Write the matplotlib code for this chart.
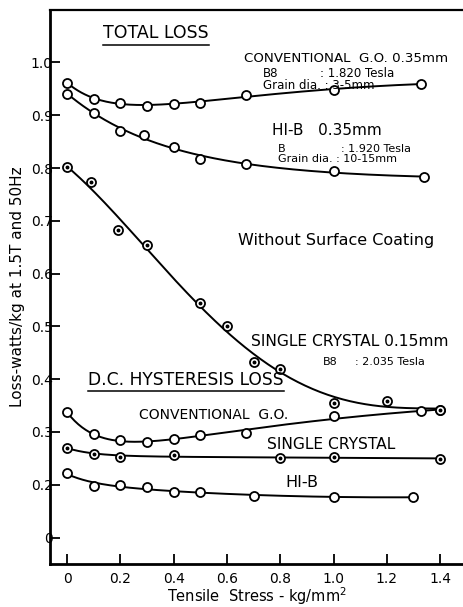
import numpy as np
import matplotlib
matplotlib.use("Agg")
import matplotlib.pyplot as plt
from matplotlib.lines import Line2D

# tensile stress (kg/mm^2) and loss (W/kg) readings
conv_total_x = [0.0, 0.1, 0.2, 0.3, 0.4, 0.5, 0.67, 1.0, 1.33]
conv_total_y = [0.962, 0.931, 0.924, 0.918, 0.922, 0.924, 0.939, 0.947, 0.960]

hib_total_x = [0.0, 0.1, 0.2, 0.29, 0.4, 0.5, 0.67, 1.0, 1.34]
hib_total_y = [0.941, 0.905, 0.870, 0.863, 0.840, 0.818, 0.807, 0.794, 0.783]

sc_total_x = [0.0, 0.09, 0.19, 0.30, 0.5, 0.6, 0.7, 0.8, 1.0, 1.2, 1.4]
sc_total_y = [0.802, 0.774, 0.683, 0.655, 0.544, 0.500, 0.433, 0.419, 0.355, 0.359, 0.341]

conv_dc_x = [0.0, 0.1, 0.2, 0.3, 0.4, 0.5, 0.67, 1.0, 1.33, 1.4]
conv_dc_y = [0.337, 0.296, 0.284, 0.281, 0.287, 0.294, 0.298, 0.330, 0.340, 0.341]

sc_dc_x = [0.0, 0.1, 0.2, 0.4, 0.8, 1.0, 1.4]
sc_dc_y = [0.270, 0.259, 0.252, 0.257, 0.251, 0.252, 0.249]

hib_dc_x = [0.0, 0.1, 0.2, 0.3, 0.4, 0.5, 0.7, 1.0, 1.3]
hib_dc_y = [0.222, 0.198, 0.199, 0.195, 0.187, 0.186, 0.179, 0.176, 0.177]

x_ticks = [0.0, 0.2, 0.4, 0.6, 0.8, 1.0, 1.2, 1.4]
x_labels = ["0", "0.2", "0.4", "0.6", "0.8", "1.0", "1.2", "1.4"]
# broken scale: the lowest tick stands for zero
y_ticks = [0.1, 0.2, 0.3, 0.4, 0.5, 0.6, 0.7, 0.8, 0.9, 1.0]
y_labels = ["0", "0.2", "0.3", "0.4", "0.5", "0.6", "0.7", "0.8", "0.9", "1.0"]

plt.rcParams["font.family"] = ["DejaVu Sans"]

fig = plt.figure(figsize=(4.63, 6.07), dpi=100)
ax = fig.add_axes([0.108, 0.071, 0.892, 0.913])


def smooth_fit(x, y, tau=None, quad=False, deg=None):
    # least-squares trend line: polynomial, or linear(+quadratic) plus a fast decay
    xs = np.linspace(x.min(), x.max(), 200)
    if deg is not None:
        return xs, np.polyval(np.polyfit(x, y, deg), xs)

    def basis(v):
        cols = [np.ones_like(v), v, np.exp(-v / tau)]
        if quad:
            cols.append(v ** 2)
        return np.column_stack(cols)

    coef, *_ = np.linalg.lstsq(basis(x), y, rcond=None)
    return xs, basis(xs) @ coef


def draw_series(x, y, dotted=False, **fit):
    x = np.asarray(x)
    y = np.asarray(y)
    xs, ys = smooth_fit(x, y, **fit)
    ax.plot(xs, ys, color="black", lw=1.4, zorder=2)
    ax.plot(x, y, "o", ms=6.5, mfc="white", mec="black", mew=1.3, zorder=3)
    if dotted:
        ax.plot(x, y, "o", ms=1.8, color="black", zorder=4)


draw_series(conv_total_x, conv_total_y, tau=0.15, quad=True)
draw_series(hib_total_x, hib_total_y, tau=0.35, quad=True)
draw_series(sc_total_x, sc_total_y, dotted=True, deg=4)
draw_series(conv_dc_x, conv_dc_y, tau=0.12, quad=True)
draw_series(sc_dc_x, sc_dc_y, dotted=True, tau=0.1)
draw_series(hib_dc_x, hib_dc_y, tau=0.1, quad=True)

ax.set_xlim(-0.064, 1.486)
ax.set_ylim(0.05, 1.10)
ax.set_xticks(x_ticks)
ax.set_xticklabels(x_labels)
ax.set_yticks(y_ticks)
ax.set_yticklabels(y_labels)
ax.tick_params(axis="both", direction="in", length=7, width=1.3, labelsize=10)
ax.tick_params(axis="y", pad=-2)
ax.tick_params(axis="x", pad=6)

ax.spines["right"].set_visible(False)
for s in ("left", "bottom"):
    ax.spines[s].set_linewidth(2.0)
ax.spines["top"].set_linewidth(1.6)

ax.set_xlabel("Tensile  Stress - kg/mm$^2$", fontsize=10.5, labelpad=0)
ax.xaxis.set_label_coords(0.5, -0.039)
ax.set_ylabel("Loss-watts/kg at 1.5T and 50Hz", fontsize=11, labelpad=4)

txt = dict(transform=ax.transData, color="black", ha="left", va="center")
title1 = ax.text(0.135, 1.055, "TOTAL LOSS", fontsize=12.5, **txt)
ax.text(0.663, 1.007, "CONVENTIONAL  G.O. 0.35mm", fontsize=9.6, **txt)
ax.text(0.736, 0.979, "B8", fontsize=8.5, **txt)
ax.text(0.95, 0.979, ": 1.820 Tesla", fontsize=8.5, **txt)
ax.text(0.736, 0.956, "Grain dia. : 3-5mm", fontsize=8.5, **txt)

ax.text(0.77, 0.871, "HI-B   0.35mm", fontsize=11, **txt)
ax.text(0.79, 0.837, "B", fontsize=8, **txt)
ax.text(1.03, 0.837, ": 1.920 Tesla", fontsize=8, **txt)
ax.text(0.79, 0.818, "Grain dia. : 10-15mm", fontsize=8, **txt)

ax.text(0.64, 0.662, "Without Surface Coating", fontsize=11.5, **txt)

ax.text(0.69, 0.471, "SINGLE CRYSTAL 0.15mm", fontsize=11.2, **txt)
ax.text(0.96, 0.432, "B8", fontsize=8, **txt)
ax.text(1.08, 0.432, ": 2.035 Tesla", fontsize=8, **txt)

title2 = ax.text(0.08, 0.399, "D.C. HYSTERESIS LOSS", fontsize=12.3, **txt)
ax.text(0.27, 0.333, "CONVENTIONAL  G.O.", fontsize=10, **txt)
ax.text(0.75, 0.277, "SINGLE CRYSTAL", fontsize=11.2, **txt)
ax.text(0.82, 0.204, "HI-B", fontsize=11.5, **txt)

# underline the two headings
fig.canvas.draw()
renderer = fig.canvas.get_renderer()
for t in (title1, title2):
    bb = t.get_window_extent(renderer).transformed(ax.transData.inverted())
    ax.add_line(Line2D([bb.x0, bb.x1], [bb.y0 - 0.004, bb.y0 - 0.004],
                       color="black", lw=1.1))

fig.savefig("out.png", dpi=100)
